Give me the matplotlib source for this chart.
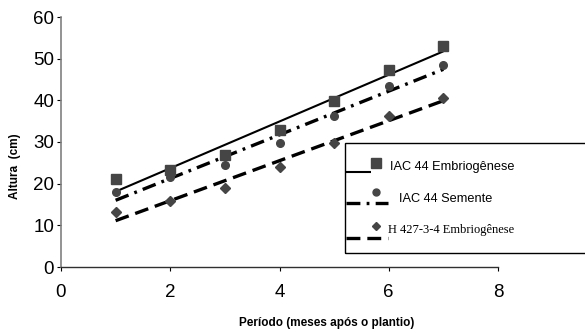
import numpy as np
import matplotlib
matplotlib.use("Agg")
import matplotlib.pyplot as plt
from matplotlib.lines import Line2D
from matplotlib.patches import Rectangle

plt.rcParams['font.family'] = ['Liberation Sans', 'DejaVu Sans']
plt.rcParams['lines.scale_dashes'] = False

# dados
meses = [1, 2, 3, 4, 5, 6, 7]
iac44_embrio = [21.1, 23.3, 26.9, 32.9, 39.8, 47.4, 53.1]
iac44_semente = [18.1, 21.5, 24.6, 29.7, 36.3, 43.4, 48.5]
h427_embrio = [13.1, 15.8, 18.9, 24.1, 29.8, 36.3, 40.6]

nomes = ["IAC 44 Embriogênese", "IAC 44 Semente", "H 427-3-4 Embriogênese"]
marcadores = ["s", "o", "D"]
tamanhos = [7.5, 5.5, 4.6]
tracos = [None, (0, (10, 4.5, 2, 4.5)), (0, (10, 5))]
larguras = [1.5, 2.4, 2.4]
cor_pt = "#454545"

W, H = 585, 333
fig = plt.figure(figsize=(W / 100, H / 100), dpi=100)
ax = fig.add_axes([61 / W, 1 - 267 / H, (498 - 61) / W, 250 / H])

x = np.array(meses)
series = [iac44_embrio, iac44_semente, h427_embrio]
for ys, m, ms, ls, lw in zip(series, marcadores, tamanhos, tracos, larguras):
    ax.plot(x, ys, linestyle="none", marker=m, ms=ms, color=cor_pt, zorder=3)
    a, b = np.polyfit(x, ys, 1)
    xl = np.array([x.min(), x.max()])
    ln, = ax.plot(xl, a * xl + b, color="black", lw=lw, zorder=2,
                  solid_capstyle="butt", dash_capstyle="butt")
    if ls is not None:
        ln.set_linestyle(ls)

ax.set_xlim(0, 8)
ax.set_ylim(0, 60)
ax.set_xticks([0, 2, 4, 6, 8])
ax.set_yticks([0, 10, 20, 30, 40, 50, 60])
ax.tick_params(labelsize=13.5, length=3, width=0.8, direction="out", pad=2)
ax.tick_params(axis="x", pad=9)
for s in ["top", "right"]:
    ax.spines[s].set_visible(False)
ax.spines["left"].set_color("#808080")
ax.spines["left"].set_linewidth(1.2)
ax.spines["bottom"].set_color("#303030")
ax.spines["bottom"].set_linewidth(1.0)

fig.text(327 / W, 1 - 323 / H, "Período (meses após o plantio)", ha="center",
         va="center", fontsize=8.5, fontweight="bold")
fig.text(15 / W, 1 - 166 / H, "Altura  (cm)", ha="center", va="center",
         rotation=90, fontsize=8.5, fontweight="bold")

# legenda desenhada a mao (marcador acima da linha, como no original)
def px(xp, yp):
    return xp / W, 1 - yp / H

caixa = Rectangle(px(345, 253), (620 - 345) / W, (253 - 143) / H,
                  transform=fig.transFigure, fill=False, lw=1.0,
                  edgecolor="black")
fig.add_artist(caixa)

linhas_y = [172, 203, 238]
marc_y = [163, 192, 226]
texto_pos = [(390, 167), (399, 199), (388, 230)]
fim_linha = [371, 388, 388]
leg_ms = [6.5, 5.0, 3.8]
for i in range(3):
    x0, y0 = px(346, linhas_y[i])
    x1, _ = px(fim_linha[i], linhas_y[i])
    l = Line2D([x0, x1], [y0, y0], transform=fig.transFigure, color="black",
               lw=larguras[i], solid_capstyle="butt", dash_capstyle="butt")
    if tracos[i] is not None:
        l.set_linestyle(tracos[i])
    fig.add_artist(l)
    mx, my = px(376, marc_y[i])
    fig.add_artist(Line2D([mx], [my], transform=fig.transFigure,
                          marker=marcadores[i], ms=leg_ms[i],
                          color=cor_pt, linestyle="none"))
    tx, ty = px(*texto_pos[i])
    if i == 2:
        fig.text(tx, ty, nomes[i], fontsize=9, va="center",
                 family=["Liberation Serif", "DejaVu Serif"])
    else:
        fig.text(tx, ty, nomes[i], fontsize=9.2, va="center")

fig.savefig("out.png", dpi=100)
